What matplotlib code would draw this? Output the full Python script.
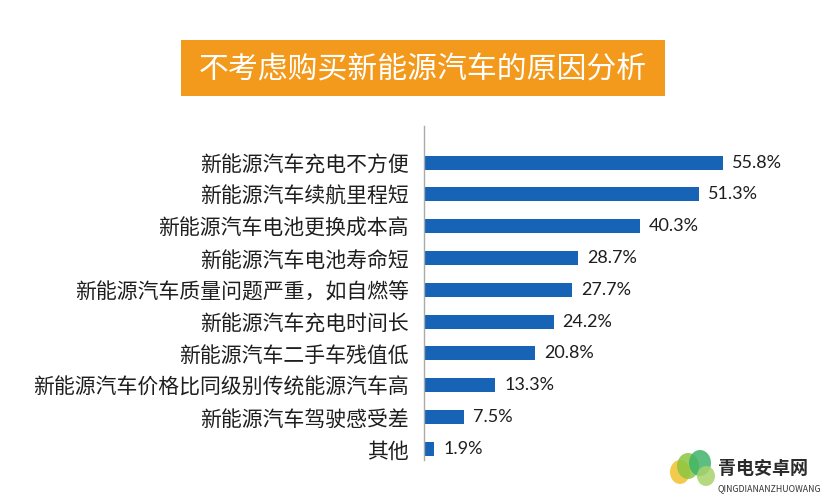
import matplotlib
matplotlib.use("Agg")
import matplotlib.pyplot as plt
from matplotlib.patches import Rectangle, Ellipse

plt.rcParams['font.family'] = ['Noto Sans CJK SC', 'DejaVu Sans']

title = "不考虑购买新能源汽车的原因分析"
categories = [
    "新能源汽车充电不方便",
    "新能源汽车续航里程短",
    "新能源汽车电池更换成本高",
    "新能源汽车电池寿命短",
    "新能源汽车质量问题严重，如自燃等",
    "新能源汽车充电时间长",
    "新能源汽车二手车残值低",
    "新能源汽车价格比同级别传统能源汽车高",
    "新能源汽车驾驶感受差",
    "其他",
]
values = [55.8, 51.3, 40.3, 28.7, 27.7, 24.2, 20.8, 13.3, 7.5, 1.9]
value_labels = ["55.8%", "51.3%", "40.3%", "28.7%", "27.7%", "24.2%", "20.8%", "13.3%", "7.5%", "1.9%"]

W, H = 835, 500
fig = plt.figure(figsize=(W / 100, H / 100), dpi=100)
fig.patch.set_facecolor("white")

ax_left, ax_right = 424, 810
ax_top, ax_bot = 126, 460
ax = fig.add_axes([ax_left / W, 1 - ax_bot / H, (ax_right - ax_left) / W, (ax_bot - ax_top) / H])
px_per_unit = (723 - 424) / 55.8
ax.set_xlim(0, (ax_right - ax_left) / px_per_unit)
ax.set_ylim(9.35, -1.15)

y = list(range(len(categories)))
ax.barh(y, values, height=0.44, color="#1763B6")
for yi, v, lab in zip(y, values, value_labels):
    ax.annotate(lab, xy=(v, yi), xytext=(6.5, 0), textcoords="offset points",
                va="center", ha="left", fontsize=13,
                family=["Lato", "DejaVu Sans"], color="#1E1E1E")

ax.set_yticks(y)
ax.set_yticklabels(categories, fontsize=15, color="#1E1E1E")
ax.tick_params(axis="y", length=0, pad=11)
ax.set_xticks([])
for s in ["top", "right", "bottom"]:
    ax.spines[s].set_visible(False)
ax.spines["left"].set_color("#AAAAAA")
ax.spines["left"].set_linewidth(1.0)

# Title box
fig.patches.append(Rectangle((181 / W, 1 - 96 / H), (665 - 181) / W, (96 - 40) / H,
                             transform=fig.transFigure, facecolor="#F39A1C",
                             edgecolor="none"))
fig.text(423 / W, 1 - 69 / H, title, ha="center", va="center", fontsize=21.5,
         color="white", fontweight="medium")

# Watermark
for (cx, cy, w, h, c) in [(680, 472, 20, 24, "#F2C12E"), (688, 466, 22, 26, "#8CC63F"),
                          (700, 463, 22, 26, "#3FB36B"), (706, 476, 18, 20, "#A8D36B")]:
    fig.patches.append(Ellipse((cx / W, 1 - cy / H), w / W, h / H, transform=fig.transFigure,
                               facecolor=c, edgecolor="none", alpha=0.85))
fig.text(718 / W, 1 - 469 / H, "青电安卓网", ha="left", va="center", fontsize=13,
         fontweight="bold", color="#2B2B2B")
fig.text(718 / W, 1 - 489 / H, "QINGDIANANZHUOWANG", ha="left", va="center", fontsize=6.3,
         color="#333333")

fig.savefig("out.png", dpi=100)
